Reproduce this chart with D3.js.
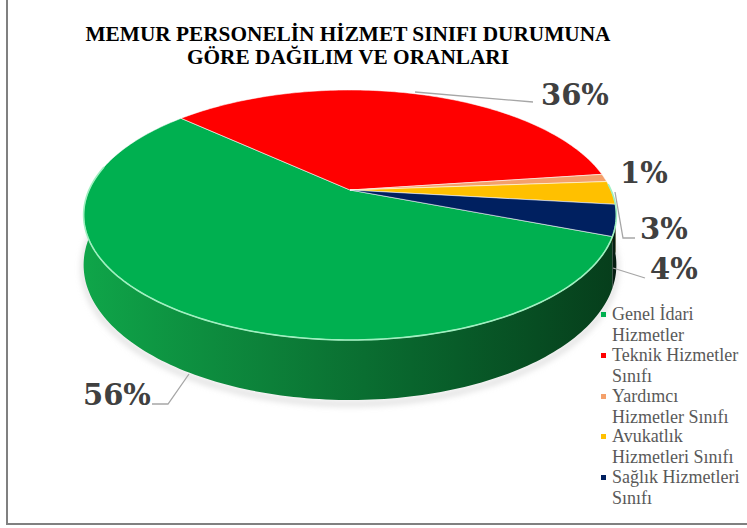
<!DOCTYPE html>
<html><head><meta charset="utf-8">
<script src="https://cdn.jsdelivr.net/npm/d3@7"></script>
<style>body{margin:0;background:#fff}svg{display:block}</style>
</head><body>
<script>
const titleLines = ["MEMUR PERSONELİN HİZMET SINIFI DURUMUNA", "GÖRE DAĞILIM VE ORANLARI"];
const categories = ["Genel İdari Hizmetler", "Teknik Hizmetler Sınıfı", "Yardımcı Hizmetler Sınıfı", "Avukatlık Hizmetleri Sınıfı", "Sağlık Hizmetleri Sınıfı"];
const legendLines = [["Genel İdari", "Hizmetler"], ["Teknik Hizmetler", "Sınıfı"], ["Yardımcı", "Hizmetler Sınıfı"], ["Avukatlık", "Hizmetleri Sınıfı"], ["Sağlık Hizmetleri", "Sınıfı"]];
const values = [56, 36, 1, 3, 4];
const labels = ["56%", "36%", "1%", "3%", "4%"];
const colors = ["#00b050", "#ff0000", "#f4a06a", "#ffc000", "#002060"];
const sideColors = ["#0b7a36", "#b00000", "#b06a3a", "#b88a00", "#0a3a22"];

const W = 747, H = 528;
const svg = d3.select("body").append("svg").attr("width", W).attr("height", H);
const defs = svg.append("defs");

// frame
svg.append("line").attr("x1", 7).attr("y1", 0).attr("x2", 7).attr("y2", 525).attr("stroke", "#808080").attr("stroke-width", 2);
svg.append("line").attr("x1", 6).attr("y1", 524).attr("x2", W).attr("y2", 524).attr("stroke", "#808080").attr("stroke-width", 2);

// title
svg.append("g").selectAll("text").data(titleLines).join("text")
  .attr("x", 348).attr("y", (d, i) => 41 + i * 23)
  .attr("text-anchor", "middle")
  .attr("font-family", "Liberation Serif, Times New Roman, serif")
  .attr("font-weight", "bold").attr("font-size", 21.3).attr("fill", "#000")
  .text(d => d);

// 3D perspective pie geometry
const cx = 350, cy = 190, Rx = 261, Ry = 120, k = 0.2, depthH = 48;
function proj(a, depth) { // a = d3 angle (clockwise from 12 o'clock)
  const th = Math.PI / 2 - a;
  const u = Math.cos(th), s = Math.sin(th), w = 1 + k * s;
  return [cx + Rx * u / w, cy + (-Ry * s + depth) / w];
}
function arcPts(a0, a1, depth) {
  const n = Math.max(2, Math.ceil(Math.abs(a1 - a0) / 0.02));
  return d3.range(n + 1).map(i => proj(a0 + (a1 - a0) * i / n, depth));
}
const line = d3.line();
const startAngle = 111.1 * Math.PI / 180;
const pie = d3.pie().sort(null).value(d => d).startAngle(startAngle).endAngle(startAngle + 2 * Math.PI);
const arcs = pie(values);

// side gradient
const grads = colors.map((c, i) => {
  const g = defs.append("linearGradient").attr("id", "side" + i)
    .attr("gradientUnits", "userSpaceOnUse").attr("x1", 85).attr("y1", 0).attr("x2", 617).attr("y2", 0);
  const base = d3.color(sideColors[i]);
  [[0, 1.35], [0.35, 1.05], [0.7, 0.75], [1, 0.5]].forEach(([o, f]) => {
    const col = d3.hsl(base); col.l = Math.min(1, col.l * f);
    g.append("stop").attr("offset", o).attr("stop-color", col.formatHex());
  });
  return "url(#side" + i + ")";
});
const shadow = defs.append("filter").attr("id", "blur").attr("x", "-20%").attr("y", "-20%").attr("width", "140%").attr("height", "140%");
shadow.append("feGaussianBlur").attr("stdDeviation", 3);

// soft shadow under pie
svg.append("path")
  .attr("d", line(arcPts(Math.PI / 2 - 0.15, 3 * Math.PI / 2 + 0.15, depthH + 3)) )
  .attr("fill", "none").attr("stroke", "#c8c8c8").attr("stroke-width", 3).attr("filter", "url(#blur)");

// sides (front half only: d3 angle in [pi/2, 3pi/2] mod 2pi)
const sides = svg.append("g");
arcs.forEach((d, i) => {
  for (let off = -2 * Math.PI; off <= 2 * Math.PI; off += 2 * Math.PI) {
    const lo = Math.max(d.startAngle, Math.PI / 2 + off);
    const hi = Math.min(d.endAngle, 3 * Math.PI / 2 + off);
    if (hi > lo) {
      const pts = arcPts(lo, hi, 0).concat(arcPts(hi, lo, depthH));
      sides.append("path").attr("d", line(pts) + "Z").attr("fill", grads[i]);
    }
  }
});

// tops
const tops = svg.append("g");
arcs.forEach((d, i) => {
  const pts = [[cx, cy]].concat(arcPts(d.startAngle, d.endAngle, 0));
  tops.append("path").attr("d", line(pts) + "Z").attr("fill", colors[i])
    .attr("stroke", "rgba(255,255,255,0.55)").attr("stroke-width", 1).attr("stroke-linejoin", "round");
});
// rim highlight on the front edge
svg.append("path").attr("d", line(arcPts(Math.PI / 2 - 0.05, 3 * Math.PI / 2 + 0.2, 0)))
  .attr("fill", "none").attr("stroke", "#9ff0c0").attr("stroke-width", 1.6);

// data labels and leader lines
const labelPos = [[83, 405], [541, 105], [620, 183], [640, 239], [650, 279]];
const leaders = [
  [[152, 404], [168, 404], [189, 374]],
  [[415, 92], [533, 102]],
  null,
  [[615, 192], [623, 238], [635, 238]],
  [[613, 268], [645, 278]]
];
const lg = svg.append("g");
leaders.forEach(p => { if (p) lg.append("path").attr("d", line(p)).attr("fill", "none").attr("stroke", "#a6a6a6").attr("stroke-width", 1.3); });
svg.append("g").selectAll("text").data(labels).join("text")
  .attr("x", (d, i) => labelPos[i][0]).attr("y", (d, i) => labelPos[i][1])
  .attr("font-family", "DejaVu Serif, serif").attr("font-weight", "bold")
  .attr("font-size", 29).attr("fill", "#404040")
  .text(d => d);

// legend
const legendBase = [320, 361, 402, 442, 483];
const leg = svg.append("g");
legendLines.forEach((ls, i) => {
  leg.append("rect").attr("x", 601).attr("y", legendBase[i] - 8).attr("width", 5).attr("height", 5).attr("fill", colors[i]);
  ls.forEach((t, j) => {
    leg.append("text").attr("x", 612).attr("y", legendBase[i] + j * 20.5)
      .attr("font-family", "Liberation Serif, Times New Roman, serif")
      .attr("font-size", 18).attr("fill", "#595959").text(t);
  });
});
</script>
</body></html>
